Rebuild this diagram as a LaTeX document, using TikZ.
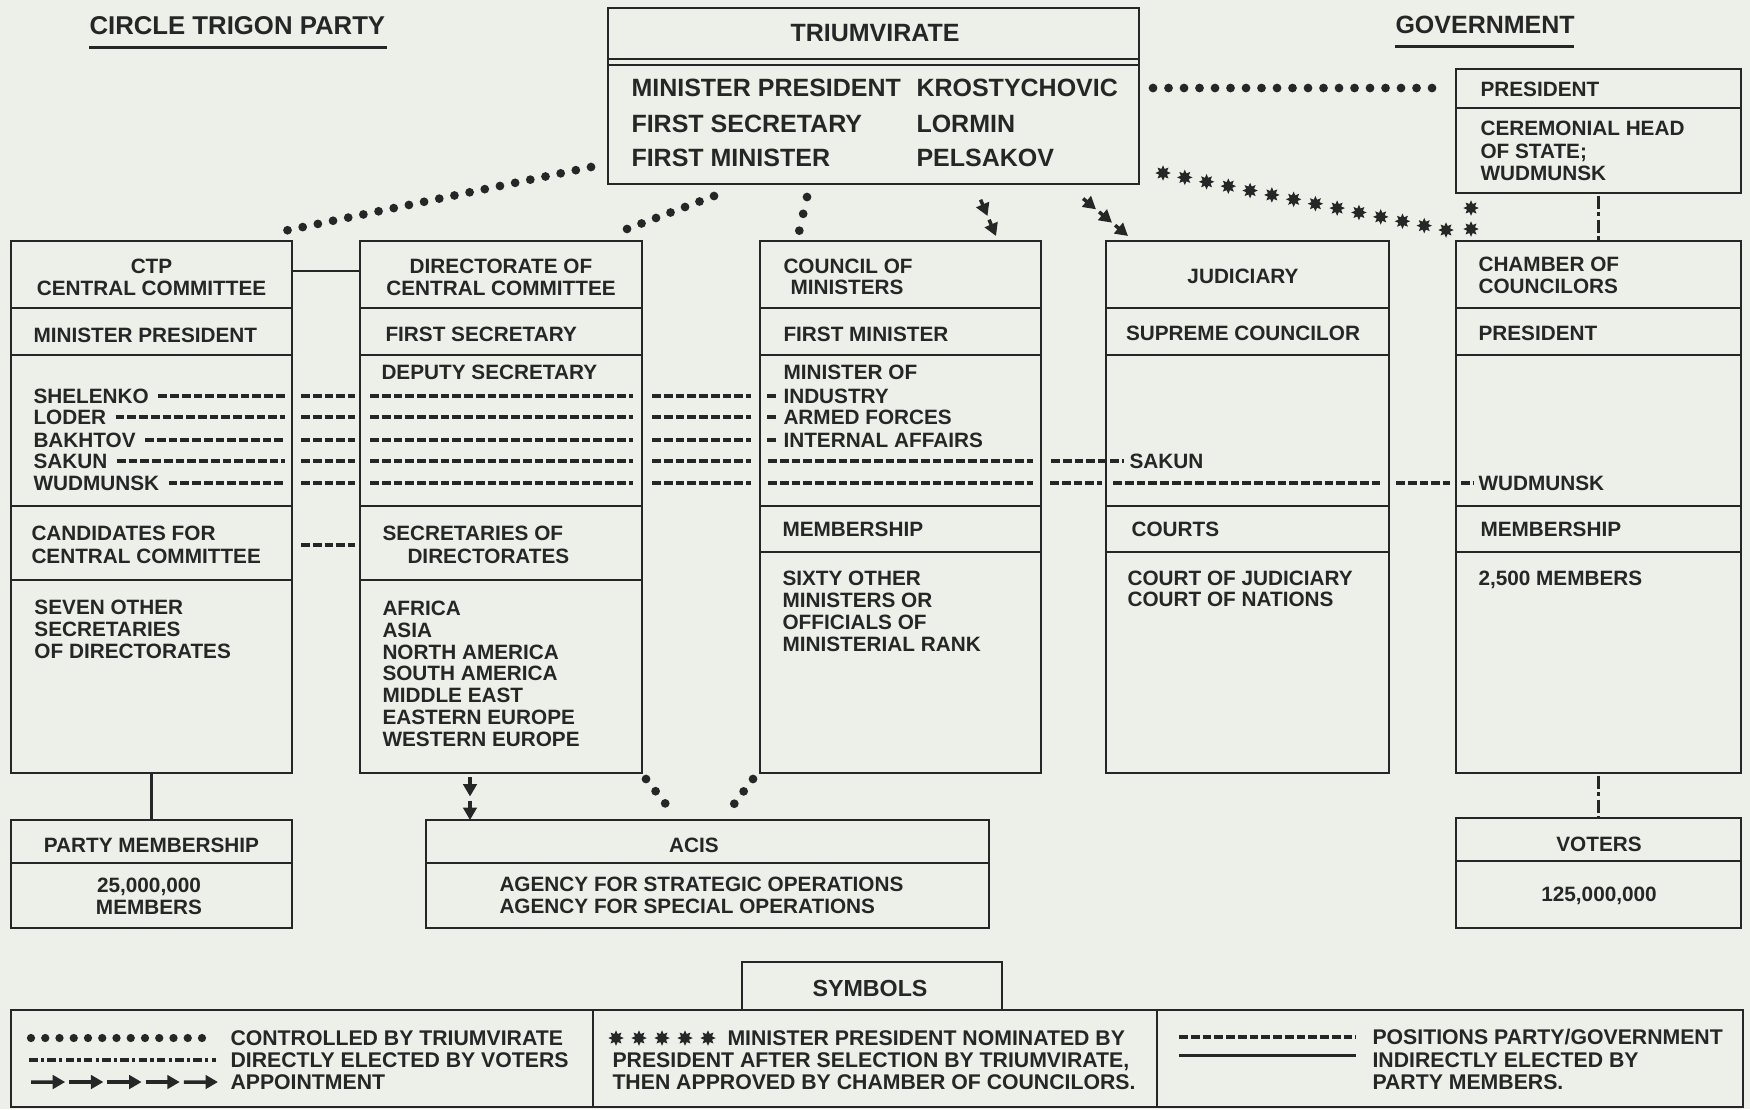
\documentclass[tikz,border=0pt]{standalone}
\usepackage{fontspec}
\setmainfont{Liberation Sans}
\usetikzlibrary{fit,calc,arrows.meta,shapes.geometric}
\definecolor{paper}{RGB}{237,240,232}
\definecolor{ink}{RGB}{38,38,38}
\tikzset{
  bx/.style={draw=ink, line width=1pt, inner sep=0pt, outer sep=0pt},
  div/.style={draw=ink, line width=1pt},
  tx/.style={inner sep=0pt, text=ink, font=\fontsize{8.3}{10}\selectfont\bfseries, text height=5.95pt, text depth=0pt},
  tl/.style={tx, anchor=west},
  bigtx/.style={inner sep=0pt, text=ink, font=\fontsize{10}{12}\selectfont\bfseries, text height=7.16pt, text depth=0pt},
  bigtl/.style={bigtx, anchor=west},
  symtx/.style={inner sep=0pt, text=ink, font=\fontsize{9.3}{11}\selectfont\bfseries, text height=6.66pt, text depth=0pt},
  legtx/.style={inner sep=0pt, text=ink, font=\fontsize{8.5}{10}\selectfont\bfseries, text height=6.1pt, text depth=0pt, anchor=west},
  ctrl/.style={draw=ink, line width=3.5pt, line cap=round, dash pattern=on 0pt off 6.2pt},
  posline/.style={draw=ink, line width=1.5pt, dash pattern=on 3.5pt off 1.2pt},
  elect/.style={draw=ink, line width=1.4pt, dash pattern=on 3.4pt off 1.3pt on 1.3pt off 1.3pt},
  electv/.style={draw=ink, line width=1.4pt, dash pattern=on 5.2pt off 1.5pt on 1.4pt off 1.5pt},
  appt/.style={draw=ink, fill=ink, line width=1.4pt, -{Triangle[length=5pt,width=5.4pt]}, shorten <=1.6pt},
  starmk/.style={star, star points=8, star point ratio=1.8, minimum size=6.2pt, inner sep=0pt, fill=ink, draw=none},
  solidln/.style={draw=ink, line width=1pt},
}
\newcommand\apchain[3]{%
  \foreach \k in {1,...,#3}{%
    \pgfmathsetmacro\fA{(\k-1)/#3}%
    \pgfmathsetmacro\fB{\k/#3}%
    \draw[appt] ($(#1)!\fA!(#2)$) -- ($(#1)!\fB!(#2)$);}}
\newcommand\starchain[4]{%
  \foreach \k in {1,...,#3}{%
    \pgfmathsetmacro\fA{(\k-1)/(#3-1)}%
    \node[starmk] (#4\k) at ($(#1)!\fA!(#2)$) {};}}
\newcommand\posbase[1]{%
  ($(#1.east)+(9,0)$) -- ($(ctpbox.east |- #1.east)+(-7,0)$)
  ($(ctpbox.east |- #1.east)+(9,0)$) -- ($(dirbox.west |- #1.east)+(-5,0)$)
  ($(dirbox.west |- #1.east)+(10,0)$) -- ($(dirbox.east |- #1.east)+(-9,0)$)
  ($(dirbox.east |- #1.east)+(10,0)$) -- ($(combox.west |- #1.east)+(-9,0)$)}
\begin{document}
\begin{tikzpicture}[x=0.4pt,y=-0.4pt]
\fill[paper] (0,0) rectangle (1750,1109);
\useasboundingbox (0,0) rectangle (1750,1109);

% titles
\node[bigtl, font=\fontsize{10.3}{12}\selectfont\bfseries] (ttlctp) at (89,26) {CIRCLE TRIGON PARTY};
\draw[ink, line width=1.2pt] (ttlctp.south west) ++(0,12) -- ++(298,0);
\node[bigtl] (ttlgov) at (1395,25) {GOVERNMENT};
\draw[ink, line width=1.2pt] (ttlgov.south west) ++(0,12) -- ++(179,0);

% triumvirate
\node[bx, fit={(608,8)(1139,184)}] (tribox) {};
\draw[div] (608,59) -- (1139,59);
\draw[div] (608,65) -- (1139,65);
\node[bigtx] (tri) at (875,33) {TRIUMVIRATE};
\node[bigtl] (r1a) at (631,88) {MINISTER PRESIDENT};
\node[bigtl] (r1b) at (916,88) {KROSTYCHOVIC};
\node[bigtl] (r2a) at (631,124) {FIRST SECRETARY};
\node[bigtl] (r2b) at (916,124) {LORMIN};
\node[bigtl] (r3a) at (631,158) {FIRST MINISTER};
\node[bigtl] (r3b) at (916,158) {PELSAKOV};

% president
\node[bx, fit={(1456,69)(1741,193)}] (presbox) {};
\draw[div] (1456,108) -- (1741,108);
\node[tl] (pr) at (1480,89) {PRESIDENT};
\node[tl] (ce1) at (1480,128) {CEREMONIAL HEAD};
\node[tl] (ce2) at (1480,151) {OF STATE;};
\node[tl] (ce3) at (1480,173) {WUDMUNSK};

% big boxes
\node[bx, fit={(11,241)(292,773)}] (ctpbox) {};
\node[bx, fit={(360,241)(642,773)}] (dirbox) {};
\node[bx, fit={(760,241)(1041,773)}] (combox) {};
\node[bx, fit={(1106,241)(1389,773)}] (judbox) {};
\node[bx, fit={(1456,241)(1741,773)}] (chbox) {};
\foreach \yy in {308,355,506,580}{\draw[div] (11,\yy) -- (292,\yy); \draw[div] (360,\yy) -- (642,\yy);}
\foreach \yy in {308,355,506,552}{\draw[div] (760,\yy) -- (1041,\yy); \draw[div] (1106,\yy) -- (1389,\yy); \draw[div] (1456,\yy) -- (1741,\yy);}

% CTP text
\node[tx] (ctpa) at (151.5,266) {CTP};
\node[tx] (ctpb) at (151.5,288) {CENTRAL COMMITTEE};
\node[tl] (ctpmp) at (33,335) {MINISTER PRESIDENT};
\node[tl] (n1) at (33,396) {SHELENKO};
\node[tl] (n2) at (33,417) {LODER};
\node[tl] (n3) at (33,440) {BAKHTOV};
\node[tl] (n4) at (33,461) {SAKUN};
\node[tl] (n5) at (33,483) {WUDMUNSK};
\node[tl] (cand1) at (31,533) {CANDIDATES FOR};
\node[tl] (cand2) at (31,556) {CENTRAL COMMITTEE};
\node[tl] (sev1) at (34,607) {SEVEN OTHER};
\node[tl] (sev2) at (34,629) {SECRETARIES};
\node[tl] (sev3) at (34,651) {OF DIRECTORATES};

% Directorate text
\node[tx] (dir1) at (501,266) {DIRECTORATE OF};
\node[tx] (dir2) at (501,288) {CENTRAL COMMITTEE};
\node[tl] (fs) at (385,334) {FIRST SECRETARY};
\node[tl] (ds) at (381,372) {DEPUTY SECRETARY};
\node[tl] (sec1) at (382,533) {SECRETARIES OF};
\node[tl] (sec2) at (407,556) {DIRECTORATES};
\node[tl] (rg1) at (382,608) {AFRICA};
\node[tl] (rg2) at (382,630) {ASIA};
\node[tl] (rg3) at (382,652) {NORTH AMERICA};
\node[tl] (rg4) at (382,673.5) {SOUTH AMERICA};
\node[tl] (rg5) at (382,695) {MIDDLE EAST};
\node[tl] (rg6) at (382,717) {EASTERN EUROPE};
\node[tl] (rg7) at (382,739) {WESTERN EUROPE};

% Council text
\node[tl] (com1) at (783,266) {COUNCIL OF};
\node[tl] (com2) at (790,287) {MINISTERS};
\node[tl] (fm) at (783,334) {FIRST MINISTER};
\node[tl] (mo) at (783,372) {MINISTER OF};
\node[tl] (ind) at (783,396) {INDUSTRY};
\node[tl] (af) at (783,417) {ARMED FORCES};
\node[tl] (ia) at (783,440) {INTERNAL AFFAIRS};
\node[tl] (cmem) at (782,529) {MEMBERSHIP};
\node[tl] (six1) at (782,578) {SIXTY OTHER};
\node[tl] (six2) at (782,600) {MINISTERS OR};
\node[tl] (six3) at (782,622) {OFFICIALS OF};
\node[tl] (six4) at (782,644) {MINISTERIAL RANK};

% Judiciary text
\node[tx] (jud) at (1243,276) {JUDICIARY};
\node[tx] (sup) at (1243,333) {SUPREME COUNCILOR};
\node[tl] (sak) at (1129,461) {SAKUN};
\node[tl] (crt) at (1131,529) {COURTS};
\node[tl] (cj) at (1127,578) {COURT OF JUDICIARY};
\node[tl] (cn) at (1127,599) {COURT OF NATIONS};

% Chamber text
\node[tl] (ch1) at (1478,264) {CHAMBER OF};
\node[tl] (ch2) at (1478,286) {COUNCILORS};
\node[tl] (chp) at (1478,333) {PRESIDENT};
\node[tl] (chw) at (1478,483) {WUDMUNSK};
\node[tl] (chm) at (1480,529) {MEMBERSHIP};
\node[tl] (ch25) at (1478,578) {2,500 MEMBERS};

% bottom boxes
\node[bx, fit={(11,820)(292,928)}] (pmbox) {};
\draw[div] (11,863) -- (292,863);
\node[tx] (pm1) at (151.5,845) {PARTY MEMBERSHIP};
\node[tx] (pm2) at (149,885) {25,000,000};
\node[tx] (pm3) at (149,907) {MEMBERS};

\node[bx, fit={(426,820)(989,928)}] (acisbox) {};
\draw[div] (426,863) -- (989,863);
\node[tx] (acis) at (694,845) {ACIS};
\node[tl] (ag1) at (499,884) {AGENCY FOR STRATEGIC OPERATIONS};
\node[tl] (ag2) at (499,906) {AGENCY FOR SPECIAL OPERATIONS};

\node[bx, fit={(1456,818)(1741,928)}] (votbox) {};
\draw[div] (1456,861) -- (1741,861);
\node[tx] (vot) at (1599,844) {VOTERS};
\node[tx] (vot2) at (1599,894) {125,000,000};

% ---------- connectors ----------
% solid
\coordinate (lk) at (0,271);
\draw[solidln] (ctpbox.east |- lk) -- (dirbox.west |- lk);
\draw[solidln] (ctpbox.south) -- (pmbox.north);
% dashed candidates - secretaries
\coordinate (lk2) at (0,545);
\draw[posline, shorten <=3.6pt, shorten >=2pt] (ctpbox.east |- lk2) -- (dirbox.west |- lk2);

% positions rows
\draw[posline] \posbase{n1} ($(combox.west |- n1.east)+(7,0)$) -- ($(ind.west)+(-6,0)$);
\draw[posline] \posbase{n2} ($(combox.west |- n2.east)+(7,0)$) -- ($(af.west)+(-6,0)$);
\draw[posline] \posbase{n3} ($(combox.west |- n3.east)+(7,0)$) -- ($(ia.west)+(-6,0)$);
\draw[posline] \posbase{n4}
  ($(combox.west |- n4.east)+(8,0)$) -- ($(combox.east |- n4.east)+(-8,0)$)
  ($(combox.east |- n4.east)+(10,0)$) -- ($(sak.west)+(-5,0)$);
\draw[posline] \posbase{n5}
  ($(combox.west |- n5.east)+(8,0)$) -- ($(combox.east |- n5.east)+(-8,0)$)
  ($(combox.east |- n5.east)+(9,0)$) -- ($(judbox.west |- n5.east)+(-4,0)$)
  ($(judbox.west |- n5.east)+(7,0)$) -- ($(judbox.east |- n5.east)+(-9,0)$)
  ($(judbox.east |- n5.east)+(7,0)$) -- ($(chbox.west |- n5.east)+(-6,0)$)
  ($(chbox.west |- n5.east)+(5,0)$) -- ($(chw.west)+(-5,0)$);

% controlled by triumvirate (dots)
\coordinate (dA1) at (591,167); \coordinate (dA2) at (279,232);
\coordinate (dB1) at (714,196); \coordinate (dB2) at (619,232);
\coordinate (dC1) at (807,197); \coordinate (dC2) at (799,232);
\draw[ctrl] (dA1) -- (dA2);
\draw[ctrl] (dB1) -- (dB2);
\draw[ctrl, dash pattern=on 0pt off 6.9pt] (dC1) -- (dC2);
\draw[ctrl, shorten <=5.6pt, shorten >=3.6pt] (tribox.east |- r1b.west) -- (presbox.west |- r1b.west);
\coordinate (dD1) at (646,779); \coordinate (dD2) at (672,812);
\coordinate (dE1) at (753,779); \coordinate (dE2) at (728,812);
\draw[ctrl] (dD1) -- (dD2);
\draw[ctrl] (dE1) -- (dE2);

% appointment arrows
\coordinate (aC1) at (979,196); \coordinate (aC2) at (996,236);
\coordinate (aJ1) at (1080,196); \coordinate (aJ2) at (1128,236);
\apchain{aC1}{aC2}{2}
\apchain{aJ1}{aJ2}{3}
\coordinate (acx) at (470,0);
\apchain{dirbox.south -| acx}{acisbox.north -| acx}{2}

% nominated (stars)
\coordinate (sD1) at (1163,173); \coordinate (sD2) at (1446,230);
\starchain{sD1}{sD2}{14}{sd}
\coordinate (sV1) at (1471,208); \coordinate (sV2) at (1471,229);
\starchain{sV1}{sV2}{2}{sv}

% directly elected
\draw[electv, shorten <=1pt] (presbox.south) -- (chbox.north);
\draw[electv, shorten <=1pt] (chbox.south) -- (votbox.north);

% ---------- legend ----------
\node[bx, fit={(742,962)(1002,1010)}] (symtab) {};
\node[symtx] (sym) at (870,988) {SYMBOLS};
\node[bx, fit={(11,1010)(1743,1107)}] (legbox) {};
\draw[div] (593,1010) -- (593,1107);
\draw[div] (1157,1010) -- (1157,1107);

\coordinate (lgd1) at (31,1038); \coordinate (lgd2) at (216,1038);
\draw[ctrl, line width=3.3pt, dash pattern=on 0pt off 5.7pt] (lgd1) -- (lgd2);
\coordinate (lge1) at (29,1060); \coordinate (lge2) at (216,1060);
\draw[elect] (lge1) -- (lge2);
\coordinate (lga1) at (27,1082); \coordinate (lga2) at (218,1082);
\apchain{lga1}{lga2}{5}
\node[legtx] (lt1) at (230,1038) {CONTROLLED BY TRIUMVIRATE};
\node[legtx] (lt2) at (230,1060) {DIRECTLY ELECTED BY VOTERS};
\node[legtx] (lt3) at (230,1082) {APPOINTMENT};

\coordinate (lgs1) at (616,1038); \coordinate (lgs2) at (708,1038);
\starchain{lgs1}{lgs2}{5}{ls}
\node[legtx] (lm1) at (727,1038) {MINISTER PRESIDENT NOMINATED BY};
\node[legtx] (lm2) at (612,1060) {PRESIDENT AFTER SELECTION BY TRIUMVIRATE,};
\node[legtx] (lm3) at (612,1082) {THEN APPROVED BY CHAMBER OF COUNCILORS.};

\coordinate (lgp1) at (1179,1037); \coordinate (lgp2) at (1356,1037);
\draw[posline] (lgp1) -- (lgp2);
\coordinate (lgl1) at (1179,1055); \coordinate (lgl2) at (1356,1055);
\draw[ink, line width=1.2pt] (lgl1) -- (lgl2);
\node[legtx] (lr1) at (1372,1037) {POSITIONS PARTY/GOVERNMENT};
\node[legtx] (lr2) at (1372,1060) {INDIRECTLY ELECTED BY};
\node[legtx] (lr3) at (1372,1082) {PARTY MEMBERS.};
\end{tikzpicture}
\end{document}
